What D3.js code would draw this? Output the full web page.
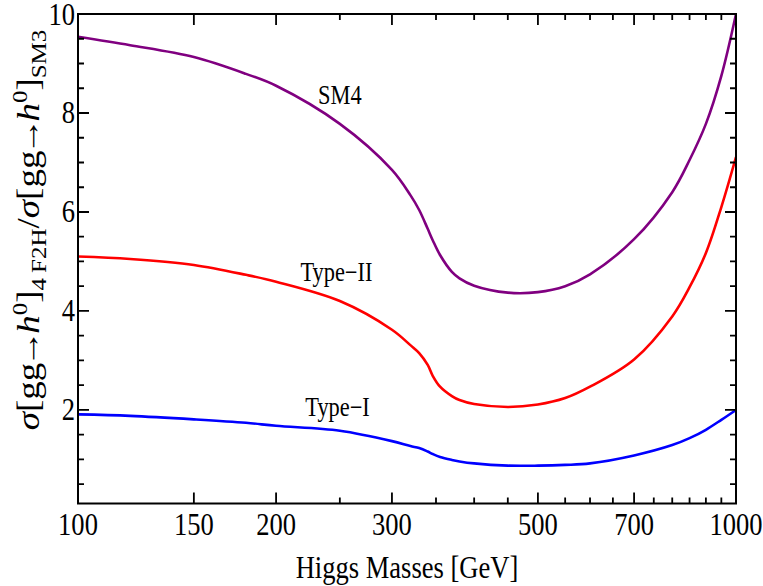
<!DOCTYPE html>
<html>
<head>
<meta charset="utf-8">
<script src="https://cdn.jsdelivr.net/npm/d3@7"></script>
<style>
  html, body { margin: 0; padding: 0; background: #fff; }
  svg { display: block; }
  text { font-family: "Liberation Serif", "DejaVu Serif", serif; fill: #000; }
</style>
</head>
<body>
<svg id="chart" width="763" height="586"></svg>
<script>
// Higgs masses (GeV) at which the cross-section ratios are tabulated
const masses = [100, 120, 150, 180, 200, 250, 300, 320, 330, 340, 346, 355, 370, 380, 400, 450, 500, 550, 600, 700, 800, 850, 900, 950, 1000];

// sigma(gg -> h0) ratio to the SM3 prediction, per model
const sm4 = [9.54, 9.37, 9.13, 8.79, 8.55, 7.78, 6.85, 6.34, 6.04, 5.66, 5.43, 5.13, 4.79, 4.66, 4.51, 4.37, 4.38, 4.50, 4.74, 5.45, 6.40, 7.05, 7.78, 8.75, 10.0];
const typeII = [5.10, 5.05, 4.93, 4.73, 4.59, 4.20, 3.62, 3.31, 3.15, 2.91, 2.69, 2.47, 2.28, 2.20, 2.12, 2.06, 2.11, 2.24, 2.47, 3.02, 3.89, 4.48, 5.17, 6.10, 7.11];
const typeI = [1.91, 1.88, 1.81, 1.74, 1.68, 1.58, 1.37, 1.27, 1.23, 1.16, 1.11, 1.05, 0.99, 0.96, 0.92, 0.875, 0.875, 0.89, 0.92, 1.08, 1.29, 1.43, 1.60, 1.80, 2.0];

const seriesNames = ["SM4", "Type\u2212II", "Type\u2212I"];
const seriesColors = ["#800080", "#ff0000", "#0000ff"];
// mass and ratio at each curve label's baseline
const labelMass = [250, 247, 248];
const labelValue = [8.18, 4.60, 1.88];

// axis ticks
const xMajor = [100, 150, 200, 300, 500, 700, 1000];
const xMinor = [250, 350, 400, 450, 550, 600, 650, 750, 800, 850, 900, 950];
const yMajor = [2, 4, 6, 8, 10];
const yMinor = [0.5, 1, 1.5, 2.5, 3, 3.5, 4.5, 5, 5.5, 6.5, 7, 7.5, 8.5, 9, 9.5];

const svg = d3.select("#chart");
const pL = 78, pR = 736, pT = 14, pB = 503.5;
const squeeze = 0.83;   // narrow, tall glyphs

const x = d3.scaleLog().domain([100, 1000]).range([pL, pR]);
const y = d3.scaleLinear().domain([0.11, 10]).range([pB, pT]);

svg.append("clipPath").attr("id", "plotclip")
  .append("rect").attr("x", pL).attr("y", pT - 2)
  .attr("width", pR - pL).attr("height", pB - pT + 2);

// curves
const line = d3.line()
  .x((d, i) => x(masses[i]))
  .y(d => y(d))
  .curve(d3.curveCatmullRom.alpha(0.5));

const allSeries = [sm4, typeII, typeI];
const plot = svg.append("g").attr("clip-path", "url(#plotclip)");
allSeries.forEach((vals, k) => {
  plot.append("path")
    .attr("d", line(vals))
    .attr("fill", "none")
    .attr("stroke", seriesColors[k])
    .attr("stroke-width", 2.6)
    .attr("stroke-linejoin", "round");
});

// text helper: horizontally condensed label anchored at (px, py)
function label(parent, px, py, str, size, anchor) {
  return parent.append("text")
    .attr("transform", `translate(${px},${py}) scale(${squeeze},1)`)
    .attr("text-anchor", anchor || "middle")
    .attr("font-size", size)
    .text(str);
}

// curve labels
seriesNames.forEach((name, k) => {
  label(svg, x(labelMass[k]), y(labelValue[k]), name, 27);
});

// inward ticks on all four sides, one path
const majorLen = 11, minorLen = 6;
const tp = d3.path();
[[xMajor, majorLen], [xMinor, minorLen]].forEach(([vals, len]) => {
  vals.forEach(v => {
    tp.moveTo(x(v), pB); tp.lineTo(x(v), pB - len);
    tp.moveTo(x(v), pT); tp.lineTo(x(v), pT + len);
  });
});
[[yMajor, majorLen], [yMinor, minorLen]].forEach(([vals, len]) => {
  vals.forEach(v => {
    tp.moveTo(pL, y(v)); tp.lineTo(pL + len, y(v));
    tp.moveTo(pR, y(v)); tp.lineTo(pR - len, y(v));
  });
});
svg.append("path")
  .attr("d", tp.toString())
  .attr("fill", "none")
  .attr("stroke", "#000")
  .attr("stroke-width", 1.8);

// frame
svg.append("rect")
  .attr("x", pL).attr("y", pT)
  .attr("width", pR - pL).attr("height", pB - pT)
  .attr("fill", "none").attr("stroke", "#000").attr("stroke-width", 2);

// tick labels
const tl = svg.append("g");
xMajor.forEach(d => label(tl, x(d), 535, d, 32));
yMajor.forEach(d => label(tl, 75, y(d) + 10.5, d, 32, "end"));

// axis titles
label(svg, 407, 578, "Higgs Masses [GeV]", 32);

const yt = svg.append("text")
  .attr("transform", `translate(39,230) rotate(-90) scale(1,${squeeze})`)
  .attr("text-anchor", "middle").attr("font-size", 37);
const arrowGap = -4;
yt.append("tspan").attr("font-style", "italic").text("\u03c3");
yt.append("tspan").text("[gg");
yt.append("tspan").attr("dx", arrowGap).text("\u2192");
yt.append("tspan").attr("dx", arrowGap).attr("font-style", "italic").text("h");
yt.append("tspan").attr("font-size", 25).attr("dy", -14).text("0");
yt.append("tspan").attr("dy", 14).text("]");
yt.append("tspan").attr("font-size", 25).attr("dy", 8).text("4\u2009F2H");
yt.append("tspan").attr("dy", -8).text("/");
yt.append("tspan").attr("font-style", "italic").text("\u03c3");
yt.append("tspan").text("[gg");
yt.append("tspan").attr("dx", arrowGap).text("\u2192");
yt.append("tspan").attr("dx", arrowGap).attr("font-style", "italic").text("h");
yt.append("tspan").attr("font-size", 25).attr("dy", -14).text("0");
yt.append("tspan").attr("dy", 14).text("]");
yt.append("tspan").attr("font-size", 25).attr("dy", 8).text("SM3");
</script>
</body>
</html>
